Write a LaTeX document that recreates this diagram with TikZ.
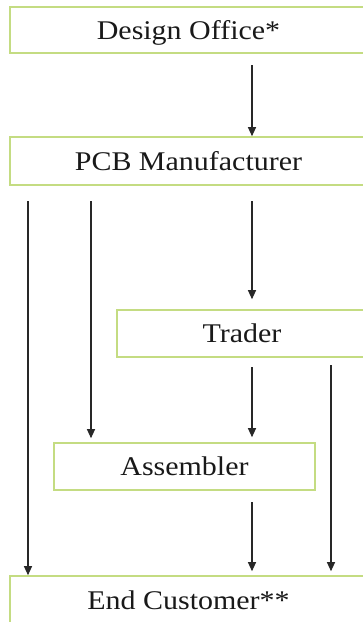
\documentclass[tikz,border=0pt]{standalone}
\usepackage{fontspec}
\setmainfont{Liberation Serif}[FakeStretch=1.11]
\usetikzlibrary{arrows.meta}
\definecolor{boxgreen}{RGB}{196,220,130}
\definecolor{arrowgray}{RGB}{40,40,40}
\begin{document}
\begin{tikzpicture}[x=1pt,y=-1pt,
  stagebox/.style={draw=boxgreen,line width=1.6pt,fill=white,inner sep=0pt,
    font=\fontsize{27}{30}\selectfont,text=black!90,text height=21pt,text depth=3pt},
  flow/.style={draw=arrowgray,line width=1.1pt,-{Triangle[length=9pt,width=8pt]}}]
\useasboundingbox (0,0) rectangle (362,622);
\node[stagebox,minimum width=357pt,minimum height=46pt] (design) at (188.5,30) {Design Office*};
\node[stagebox,minimum width=357pt,minimum height=48pt] (pcb) at (188.5,161) {PCB Manufacturer};
\node[stagebox,minimum width=250pt,minimum height=47pt] (trader) at (242,333.5) {Trader};
\node[stagebox,minimum width=261pt,minimum height=47pt] (asm) at (184.5,466.5) {Assembler};
\node[stagebox,minimum width=357pt,minimum height=48pt] (end) at (188.5,600) {End Customer**};
\coordinate (s1) at (252,65);
\coordinate (s2) at (28,201);
\coordinate (s3) at (91,201);
\coordinate (s4) at (252,201);
\coordinate (s5) at (252,367);
\coordinate (s6) at (331,365);
\coordinate (s7) at (252,502);
\draw[flow] (s1) -- (s1 |- pcb.north);
\draw[flow] (s2) -- (s2 |- end.north);
\draw[flow,shorten >=4pt] (s3) -- (s3 |- asm.north);
\draw[flow,shorten >=10pt] (s4) -- (s4 |- trader.north);
\draw[flow,shorten >=5pt] (s5) -- (s5 |- asm.north);
\draw[flow,shorten >=4pt] (s6) -- (s6 |- end.north);
\draw[flow,shorten >=4pt] (s7) -- (s7 |- end.north);
\end{tikzpicture}
\end{document}
